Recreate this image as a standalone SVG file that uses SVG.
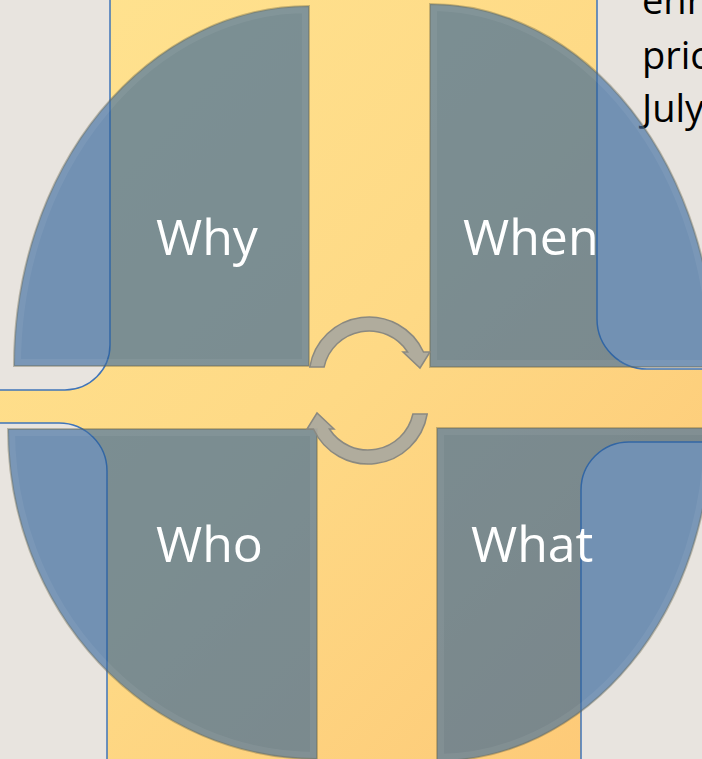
<svg xmlns="http://www.w3.org/2000/svg" width="702" height="759" viewBox="0 0 702 759">
  <defs>
    <linearGradient id="bg" x1="0" y1="0" x2="1" y2="1">
      <stop offset="0" stop-color="#ffe390"/>
      <stop offset="0.5" stop-color="#fed985"/>
      <stop offset="1" stop-color="#fdc775"/>
    </linearGradient>
    <style>
      .panel { fill: #e8e4df; stroke: #3f74b9; stroke-width: 1.5; }
      .quad { fill: #2a5e98; fill-opacity: 0.62; stroke: #5d5a3c; stroke-opacity: 0.35; stroke-width: 2; }
      .rim { fill: none; stroke: #ffffff; stroke-opacity: 0.06; stroke-width: 14; }
      .label { font-family: "Open Sans", "Liberation Sans", sans-serif; font-size: 50px; fill: #ffffff; }
      .body { font-family: "Open Sans", "Liberation Sans", sans-serif; font-size: 38px; fill: #000000; }
      .arrow { fill: #a9a89f; fill-opacity: 0.92; stroke: #8a8981; stroke-width: 1.5; }
    </style>
    <path id="pWhy" d="M 309 366 H 14 A 295 360 0 0 1 309 6 Z"/>
    <path id="pWhen" d="M 430 367 V 4 A 285 363 0 0 1 715 367 Z"/>
    <path id="pWho" d="M 317 429 H 8 A 309 330 0 0 0 317 759 Z"/>
    <path id="pWhat" d="M 437 428 H 711 A 274 333 0 0 1 437 761 Z"/>
    <clipPath id="cWhy"><use href="#pWhy"/></clipPath>
    <clipPath id="cWhen"><use href="#pWhen"/></clipPath>
    <clipPath id="cWho"><use href="#pWho"/></clipPath>
    <clipPath id="cWhat"><use href="#pWhat"/></clipPath>
    <path id="arc" d="M 309.8 367 A 60 60 0 0 1 423.5 352 L 430 352 L 420 368 L 403 352 L 407.6 352 A 46 46 0 0 0 324.1 367 Z"/>
  </defs>

  <rect id="background" x="0" y="0" width="702" height="759" fill="url(#bg)"/>

  <g id="panels">
    <path class="panel" d="M -2 -2 H 110 V 345 A 45 45 0 0 1 65 390 H -2 Z"/>
    <path class="panel" d="M 704 -2 H 597 V 319 A 50 50 0 0 0 647 369 H 704 Z"/>
    <path class="panel" d="M -2 423 H 59 A 48 48 0 0 1 107 471 V 761 H -2 Z"/>
    <path class="panel" d="M 704 442 H 629 A 48 48 0 0 0 581 490 V 761 H 704 Z"/>
  </g>

  <g id="panel-text">
    <text class="body" x="642" y="14">enr</text>
    <text class="body" x="642" y="69">pric</text>
    <text class="body" x="642" y="122">July</text>
  </g>

  <g id="node-why">
    <use href="#pWhy" class="quad"/>
    <use href="#pWhy" class="rim" clip-path="url(#cWhy)"/>
    <text class="label" x="156" y="255">Why</text>
  </g>
  <g id="node-when">
    <use href="#pWhen" class="quad"/>
    <use href="#pWhen" class="rim" clip-path="url(#cWhen)"/>
    <text class="label" x="463" y="255">When</text>
  </g>
  <g id="node-who">
    <use href="#pWho" class="quad"/>
    <use href="#pWho" class="rim" clip-path="url(#cWho)"/>
    <text class="label" x="156" y="562">Who</text>
  </g>
  <g id="node-what">
    <use href="#pWhat" class="quad"/>
    <use href="#pWhat" class="rim" clip-path="url(#cWhat)"/>
    <text class="label" x="471" y="562">What</text>
  </g>

  <g id="connectors">
    <use href="#arc" class="arrow"/>
    <use href="#arc" class="arrow" transform="rotate(180 368.5 390.5)"/>
  </g>
</svg>
